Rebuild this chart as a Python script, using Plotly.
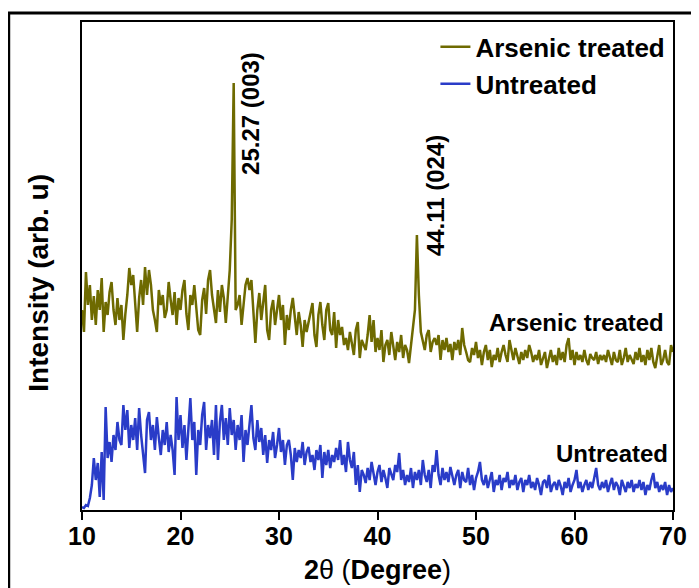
import plotly.graph_objects as go

# 2-theta grid: 10.0 to 70.0 in 0.2 degree steps
theta_start = 10.0
theta_step = 0.2

# Arsenic treated intensities (arb. u), 5 values per degree
arsenic_treated = [
    200, 178, 238, 205, 225,   # 10
    190, 214, 185, 220, 200,   # 11
    232, 178, 208, 195, 218,   # 12
    228, 200, 185, 212, 190,   # 13
    205, 170, 196, 215, 242,   # 14
    225, 235, 200, 178, 212,   # 15
    230, 205, 243, 215, 240,   # 16
    225, 200, 190, 178, 220,   # 17
    205, 215, 192, 200, 228,   # 18
    210, 195, 218, 185, 212,   # 19
    200, 220, 230, 196, 180,   # 20
    215, 205, 225, 198, 180,   # 21
    175, 210, 222, 196, 230,   # 22
    240, 215, 200, 187, 220,   # 23
    198, 225, 212, 187, 215,   # 24
    240, 290, 427, 200, 205,   # 25
    215, 185, 205, 225, 232,   # 26
    220, 230, 195, 167, 200,   # 27
    217, 190, 205, 225, 180,   # 28
    170, 200, 210, 185, 198,   # 29
    215, 190, 205, 165, 195,   # 30
    180, 200, 212, 190, 175,   # 31
    198, 185, 163, 190, 178,   # 32
    188, 200, 207, 175, 163,   # 33
    195, 208, 185, 170, 200,   # 34
    207, 180, 175, 198, 162,   # 35
    190, 175, 183, 165, 172,   # 36
    160, 178, 168, 155, 180,   # 37
    188, 152, 170, 165, 160,   # 38
    175, 195, 168, 190, 158,   # 39
    172, 160, 180, 148, 165,   # 40
    170, 155, 178, 162, 150,   # 41
    168, 158, 175, 152, 165,   # 42
    160, 147, 165, 187, 200,   # 43
    275, 215, 178, 170, 160,   # 44
    175, 180, 158, 168, 172,   # 45
    165, 175, 150, 170, 160,   # 46
    172, 158, 166, 150, 168,   # 47
    160, 170, 155, 182, 165,   # 48
    158, 150, 148, 162, 155,   # 49
    168, 152, 160, 145, 158,   # 50
    165, 150, 160, 143, 155,   # 51
    150, 162, 148, 158, 165,   # 52
    155, 148, 170, 160, 150,   # 53
    162, 155, 146, 158, 150,   # 54
    160, 152, 165, 158, 148,   # 55
    155, 150, 160, 145, 152,   # 56
    158, 142, 150, 160, 148,   # 57
    155, 145, 162, 150, 158,   # 58
    148, 165, 172, 150, 160,   # 59
    145, 158, 150, 155, 148,   # 60
    160, 150, 145, 156, 152,   # 61
    150, 158, 146, 155, 150,   # 62
    155, 148, 160, 152, 145,   # 63
    158, 150, 148, 160, 145,   # 64
    152, 162, 148, 155, 150,   # 65
    146, 158, 150, 162, 148,   # 66
    155, 145, 160, 150, 162,   # 67
    148, 142, 155, 165, 145,   # 68
    150, 160, 148, 145, 165,   # 69
    158,                       # 70
]

# Untreated intensities (arb. u), 5 values per degree
untreated = [
    3, 2, 5, 4, 12,        # 10
    25, 52, 30, 47, 13,    # 11
    58, 10, 103, 52, 68,   # 12
    48, 75, 60, 88, 70,    # 13
    65, 105, 80, 100, 62,  # 14
    85, 70, 92, 60, 102,   # 15
    75, 55, 37, 90, 98,    # 16
    70, 85, 60, 93, 72,    # 17
    55, 80, 65, 88, 58,    # 18
    75, 60, 35, 113, 70,   # 19
    95, 62, 85, 50, 78,    # 20
    112, 70, 88, 35, 80,   # 21
    65, 95, 108, 60, 85,   # 22
    72, 90, 55, 105, 50,   # 23
    88, 105, 70, 92, 65,   # 24
    102, 75, 90, 60, 85,   # 25
    70, 95, 48, 80, 65,    # 26
    88, 105, 72, 60, 90,   # 27
    68, 82, 55, 75, 47,    # 28
    70, 60, 78, 52, 65,    # 29
    82, 58, 70, 45, 65,    # 30
    70, 55, 30, 62, 48,    # 31
    60, 52, 68, 45, 58,    # 32
    63, 48, 55, 40, 60,    # 33
    50, 65, 32, 58, 45,    # 34
    60, 42, 55, 48, 62,    # 35
    50, 70, 45, 55, 38,    # 36
    68, 50, 42, 58, 25,    # 37
    45, 18, 40, 35, 27,    # 38
    42, 30, 48, 35, 25,    # 39
    38, 45, 28, 40, 32,    # 40
    22, 42, 35, 30, 45,    # 41
    38, 57, 30, 40, 25,    # 42
    35, 28, 42, 22, 38,    # 43
    30, 40, 25, 50, 35,    # 44
    28, 40, 22, 45, 38,    # 45
    60, 35, 25, 42, 30,    # 46
    38, 28, 43, 32, 25,    # 47
    35, 40, 22, 38, 30,    # 48
    28, 42, 25, 35, 20,    # 49
    32, 38, 48, 30, 25,    # 50
    35, 22, 30, 38, 18,    # 51
    30, 25, 35, 20, 32,    # 52
    28, 38, 22, 30, 25,    # 53
    35, 20, 28, 32, 18,    # 54
    30, 25, 35, 22, 28,    # 55
    20, 32, 25, 15, 28,    # 56
    30, 22, 35, 18, 25,    # 57
    28, 20, 30, 24, 15,    # 58
    28, 22, 32, 18, 25,    # 59
    30, 40, 22, 28, 18,    # 60
    25, 30, 20, 28, 22,    # 61
    32, 42, 25, 20, 28,    # 62
    22, 30, 18, 26, 32,    # 63
    20, 28, 24, 15, 30,    # 64
    25, 18, 28, 22, 30,    # 65
    18, 26, 22, 30, 20,    # 66
    28, 15, 25, 20, 30,    # 67
    37, 22, 28, 18, 25,    # 68
    20, 28, 15, 25, 18,    # 69
    22,                    # 70
]

tick_vals = [10, 20, 30, 40, 50, 60, 70]
tick_text = ["10", "20", "30", "40", "50", "60", "70"]

peak_labels = ["25.27 (003)", "44.11 (024)"]
peak_label_x = [27.05, 45.85]
peak_label_y = [397, 314]

series_labels = ["Arsenic treated", "Untreated"]
series_label_x = [60.2, 63.8]
series_label_y = [188, 57]

theta = [round(theta_start + theta_step * i, 2) for i in range(len(arsenic_treated))]

OLIVE = "#6e6a00"
BLUE = "#2a3cc8"
FONT = "Liberation Sans, Arial, sans-serif"

fig = go.Figure()
fig.add_trace(go.Scatter(x=theta, y=arsenic_treated, mode="lines", name="Arsenic treated",
                         line=dict(color=OLIVE, width=2.5)))
fig.add_trace(go.Scatter(x=theta, y=untreated, mode="lines", name="Untreated",
                         line=dict(color=BLUE, width=2.5)))

for txt, xx, yy in zip(peak_labels, peak_label_x, peak_label_y):
    fig.add_annotation(x=xx, y=yy, xref="x", yref="y", text="<b>%s</b>" % txt, textangle=-90,
                       xanchor="center", yanchor="middle",
                       showarrow=False, font=dict(family=FONT, size=24, color="black"))

for txt, xx, yy in zip(series_labels, series_label_x, series_label_y):
    fig.add_annotation(x=xx, y=yy, xref="x", yref="y", text="<b>%s</b>" % txt,
                       xanchor="center", yanchor="middle",
                       showarrow=False, font=dict(family=FONT, size=24, color="black"))

# axis titles
fig.add_annotation(x=0.5, y=-0.122, xref="paper", yref="paper",
                   xanchor="center", yanchor="middle",
                   text="<b>2</b>θ (<b>Degree</b>)", showarrow=False,
                   font=dict(family=FONT, size=27, color="black"))
fig.add_annotation(x=-0.075, y=0.465, xref="paper", yref="paper",
                   xanchor="center", yanchor="middle",
                   text="<b>Intensity (arb. u)</b>", textangle=-90, showarrow=False,
                   font=dict(family=FONT, size=28, color="black"))

# outer frame
fig.add_shape(type="rect", xref="paper", yref="paper", x0=-0.124, x1=1.3, y0=-0.4, y1=1.0184,
              line=dict(color="black", width=3), fillcolor="rgba(0,0,0,0)", layer="above")

fig.update_layout(
    width=691, height=580,
    margin=dict(l=74, r=22, t=14, b=78),
    paper_bgcolor="white", plot_bgcolor="white",
    showlegend=True,
    legend=dict(x=0.598, y=0.997, xanchor="left", yanchor="top",
                font=dict(family=FONT, size=26, color="black", weight="bold"),
                bgcolor="rgba(0,0,0,0)", tracegroupgap=0),
    xaxis=dict(range=[10, 70], tickvals=tick_vals, ticktext=tick_text,
               ticks="outside", ticklen=8, tickwidth=2, tickcolor="black",
               ticklabelstandoff=-5,
               showline=True, linecolor="black", linewidth=2, mirror=True,
               showgrid=False, zeroline=False,
               tickfont=dict(family=FONT, size=25, color="black", weight="bold")),
    yaxis=dict(range=[0, 488], showticklabels=False, ticks="",
               showline=True, linecolor="black", linewidth=2, mirror=True,
               showgrid=False, zeroline=False),
)

fig.write_html("out.html")
